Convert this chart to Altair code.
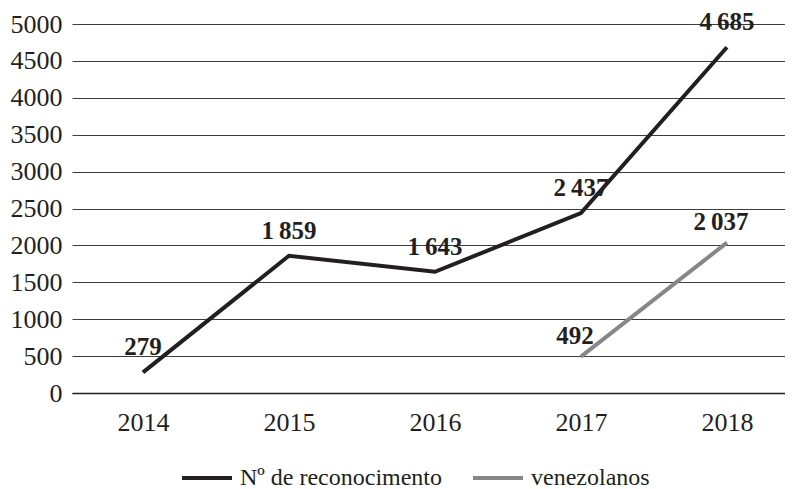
import altair as alt
import pandas as pd

years = ["2014", "2015", "2016", "2017", "2018"]
reconocimiento = [279, 1859, 1643, 2437, 4685]
venez_years = ["2017", "2018"]
venezolanos = [492, 2037]
series_names = ["Nº de reconocimento", "venezolanos"]
series_colors = ["#231f20", "#878787"]
y_ticks = list(range(0, 5001, 500))


def fmt(v):
    return f"{v:,}".replace(",", "\u2009")


rows = [dict(year=y, value=v, serie=series_names[0], label=fmt(v))
        for y, v in zip(years, reconocimiento)]
rows += [dict(year=y, value=v, serie=series_names[1], label=fmt(v))
         for y, v in zip(venez_years, venezolanos)]
df = pd.DataFrame(rows)

FONT = "Liberation Serif"
TXT = "#231f20"

x = alt.X(
    "year:O",
    sort=years,
    scale=alt.Scale(type="point", domain=years, padding=0.442, align=0.55),
    axis=alt.Axis(title=None, labelAngle=0, domain=True, domainColor=TXT, domainWidth=1.5,
                  ticks=False, grid=False, labelPadding=16, labelFontSize=26,
                  labelFont=FONT, labelColor=TXT),
)
y = alt.Y(
    "value:Q",
    scale=alt.Scale(domain=[0, 5000], nice=False),
    axis=alt.Axis(title=None, values=y_ticks, format="d", domain=False, ticks=False,
                  labelPadding=10, gridColor="#3c3c3c", gridWidth=1, labelFontSize=26,
                  labelFont=FONT, labelColor=TXT),
)
color = alt.Color(
    "serie:N",
    scale=alt.Scale(domain=series_names, range=series_colors),
    legend=alt.Legend(title=None, orient="none", legendX=108, legendY=427,
                      direction="horizontal", symbolType="stroke", symbolSize=2500,
                      symbolStrokeWidth=4, labelFont=FONT, labelFontSize=24,
                      labelLimit=500, labelColor=TXT, columnPadding=22, labelOffset=6),
)

base = alt.Chart(df)
lines = base.mark_line(strokeWidth=4).encode(x=x, y=y, color=color, detail="serie:N")

labels_main = base.transform_filter(alt.datum.serie == series_names[0]).mark_text(
    baseline="bottom", dy=-12, font=FONT, fontSize=25, fontWeight="bold", color=TXT
).encode(x=x, y=y, text="label:N")

labels_ven = base.transform_filter(alt.datum.serie == series_names[1]).mark_text(
    baseline="bottom", dx=-6, dy=-8, font=FONT, fontSize=25, fontWeight="bold", color=TXT
).encode(x=x, y=y, text="label:N")

chart = alt.layer(lines, labels_main, labels_ven).properties(
    width=713, height=369,
    padding={"left": 2, "top": 2, "right": 0, "bottom": 0},
).configure(background="white", font=FONT).configure_view(stroke=None).configure_legend(
    labelFont=FONT
)

chart.save("out.html", embed_options={"renderer": "svg", "actions": False})
